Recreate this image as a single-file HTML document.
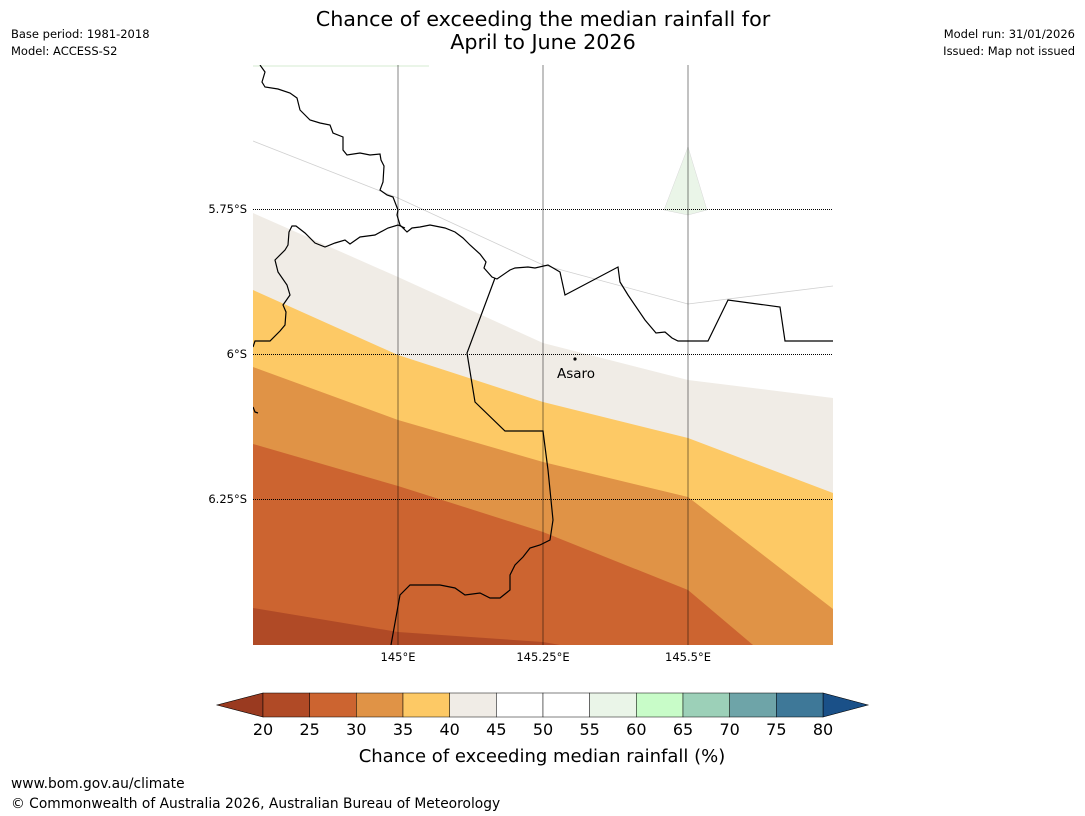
<!DOCTYPE html>
<html><head><meta charset="utf-8"><style>
body{margin:0;background:#fff;width:1085px;height:816px;overflow:hidden;font-family:"DejaVu Sans","Liberation Sans",sans-serif}
svg{display:block}
</style></head><body>
<svg width="1085" height="816">
<text x="543" y="26" font-size="20.7" text-anchor="middle">Chance of exceeding the median rainfall for</text>
<text x="543" y="49" font-size="20.7" text-anchor="middle">April to June 2026</text>
<text x="11" y="38" font-size="11.5">Base period: 1981-2018</text>
<text x="11" y="55" font-size="11.5">Model: ACCESS-S2</text>
<text x="1075" y="38" font-size="11.5" text-anchor="end">Model run: 31/01/2026</text>
<text x="1075" y="55" font-size="11.5" text-anchor="end">Issued: Map not issued</text>
<defs><clipPath id="mc"><rect x="253" y="65" width="580" height="580"/></clipPath></defs>
<g clip-path="url(#mc)">
<rect x="253" y="65" width="580" height="580" fill="#fff"/>
<polygon fill="#f0ece6" points="253,213 398,277 543,343 688,380 833,398 833,660 253,660"/>
<polygon fill="#fdc965" points="253,290 398,355 543,402 688,438 833,493 833,660 253,660"/>
<polygon fill="#e09346" points="253,367 398,420 543,462 688,497 833,609 833,660 253,660"/>
<polygon fill="#cc6430" points="253,444 398,486 543,532 688,590 753,645 753,660 253,660"/>
<polygon fill="#b04a26" points="253,608 398,632 543,642 560,645 560,660 253,660"/>
<polygon fill="#eaf5e8" stroke="#d8d8d8" stroke-width="0.5" points="664,210 688,147 707,210 688,215"/>
<rect x="253" y="65" width="176" height="2" fill="#eaf5e8"/>
<polyline fill="none" stroke="#d0d0d0" stroke-width="0.8" points="253,141 398,198 543,265 688,304 833,286"/>
<g fill="none" stroke="#000" stroke-width="1.2">
<polyline points="260,65 265,72 262,82 265,87 278,89 290,93 297,98 300,110 310,120 320,123 330,125 333,133 343,137 343,150 347,155 360,153 370,155 380,154 381,160 384,166 383,182 380,190 387,195 393,197 398,210 397,215 400,225 407,232 412,228 420,227 430,225 445,228 455,232 463,238 470,245 480,254 486,262 484,268 492,277 497,279 510,270 515,268 528,267 535,268 548,265 560,272 565,295 618,267 620,282 628,295 645,320 656,333 665,332 672,338 678,341 708,341 728,300 780,307 785,341 833,341"/>
<polyline points="253,347 255,341 270,341 280,331 285,325 286,312 283,305 290,295 287,285 278,272 275,260 285,250 288,245 289,232 292,226 296,226 305,233 315,243 325,247 335,243 345,240 350,244 360,237 375,235 388,228 398,225 405,228"/>
<polyline points="253,407 255,412 258,413"/>
</g>
<polyline fill="none" stroke="#000" stroke-width="1.2" points="495,278 467,353 475,402 505,431 543,431 548,470 551,500 553,520 550,540 540,545 530,548 523,557 515,565 510,575 510,590 500,598 490,598 480,593 465,595 455,588 440,585 420,585 410,585 400,595 391,645"/>
<g>
<line x1="398" y1="65" x2="398" y2="645" stroke="#000" stroke-opacity="0.4" stroke-width="1.2"/>
<line x1="543" y1="65" x2="543" y2="645" stroke="#000" stroke-opacity="0.4" stroke-width="1.2"/>
<line x1="688" y1="65" x2="688" y2="645" stroke="#000" stroke-opacity="0.4" stroke-width="1.2"/>
<line x1="253" y1="209.5" x2="833" y2="209.5" stroke="#000" stroke-dasharray="1,1" stroke-width="1"/>
<line x1="253" y1="354.5" x2="833" y2="354.5" stroke="#000" stroke-dasharray="1,1" stroke-width="1"/>
<line x1="253" y1="499.5" x2="833" y2="499.5" stroke="#000" stroke-dasharray="1,1" stroke-width="1"/>
</g>
<circle cx="575" cy="359" r="1.6" fill="#000"/>
<text x="576" y="378" font-size="13.5" text-anchor="middle">Asaro</text>
</g>
<g font-size="11.5">
<text x="247" y="213" text-anchor="end">5.75°S</text>
<text x="247" y="358" text-anchor="end">6°S</text>
<text x="247" y="503" text-anchor="end">6.25°S</text>
<text x="398" y="661" text-anchor="middle">145°E</text>
<text x="543" y="661" text-anchor="middle">145.25°E</text>
<text x="688" y="661" text-anchor="middle">145.5°E</text>
</g>
<g id="cbar"></g>
<text x="542" y="762" font-size="18" text-anchor="middle">Chance of exceeding median rainfall (%)</text>
<text x="11" y="788" font-size="13.8">www.bom.gov.au/climate</text>
<text x="11" y="808" font-size="13.8">© Commonwealth of Australia 2026, Australian Bureau of Meteorology</text>
</svg>
<script>
const ticks=[20,25,30,35,40,45,50,55,60,65,70,75,80];
const colors=["#b04a26","#cc6430","#e09346","#fdc965","#f0ece6","#ffffff","#ffffff","#eaf5e8","#c8fcc8","#9cd0b8","#6ea4a8","#3e7898"];
const g=document.getElementById('cbar');const ns='http://www.w3.org/2000/svg';
const x0=263,x1=823,y0=693,y1=717;
const sx=v=>x0+(v-20)/60*(x1-x0);
function mk(t,a){const e=document.createElementNS(ns,t);for(const k in a)e.setAttribute(k,a[k]);g.appendChild(e);return e;}
let lo=mk('polygon',{points:`${x0},${y0} ${x0},${y1} 217,705`,fill:'#9a3a20',stroke:'#000','stroke-width':0.6});


let hi=mk('polygon',{points:`${x1},${y0} ${x1},${y1} 868,705`,fill:'#1a5088',stroke:'#000','stroke-width':0.6});


colors.forEach((c,i)=>{const a=sx(ticks[i]),b=sx(ticks[i+1]);
const r=mk('rect',{x:a,y:y0,width:b-a,height:y1-y0,fill:c,stroke:'#000','stroke-width':0.5});

});
ticks.forEach(v=>{const t=mk('text',{x:sx(v),y:735,'font-size':16,'text-anchor':'middle'});t.textContent=v;

});
</script>
</body></html>
